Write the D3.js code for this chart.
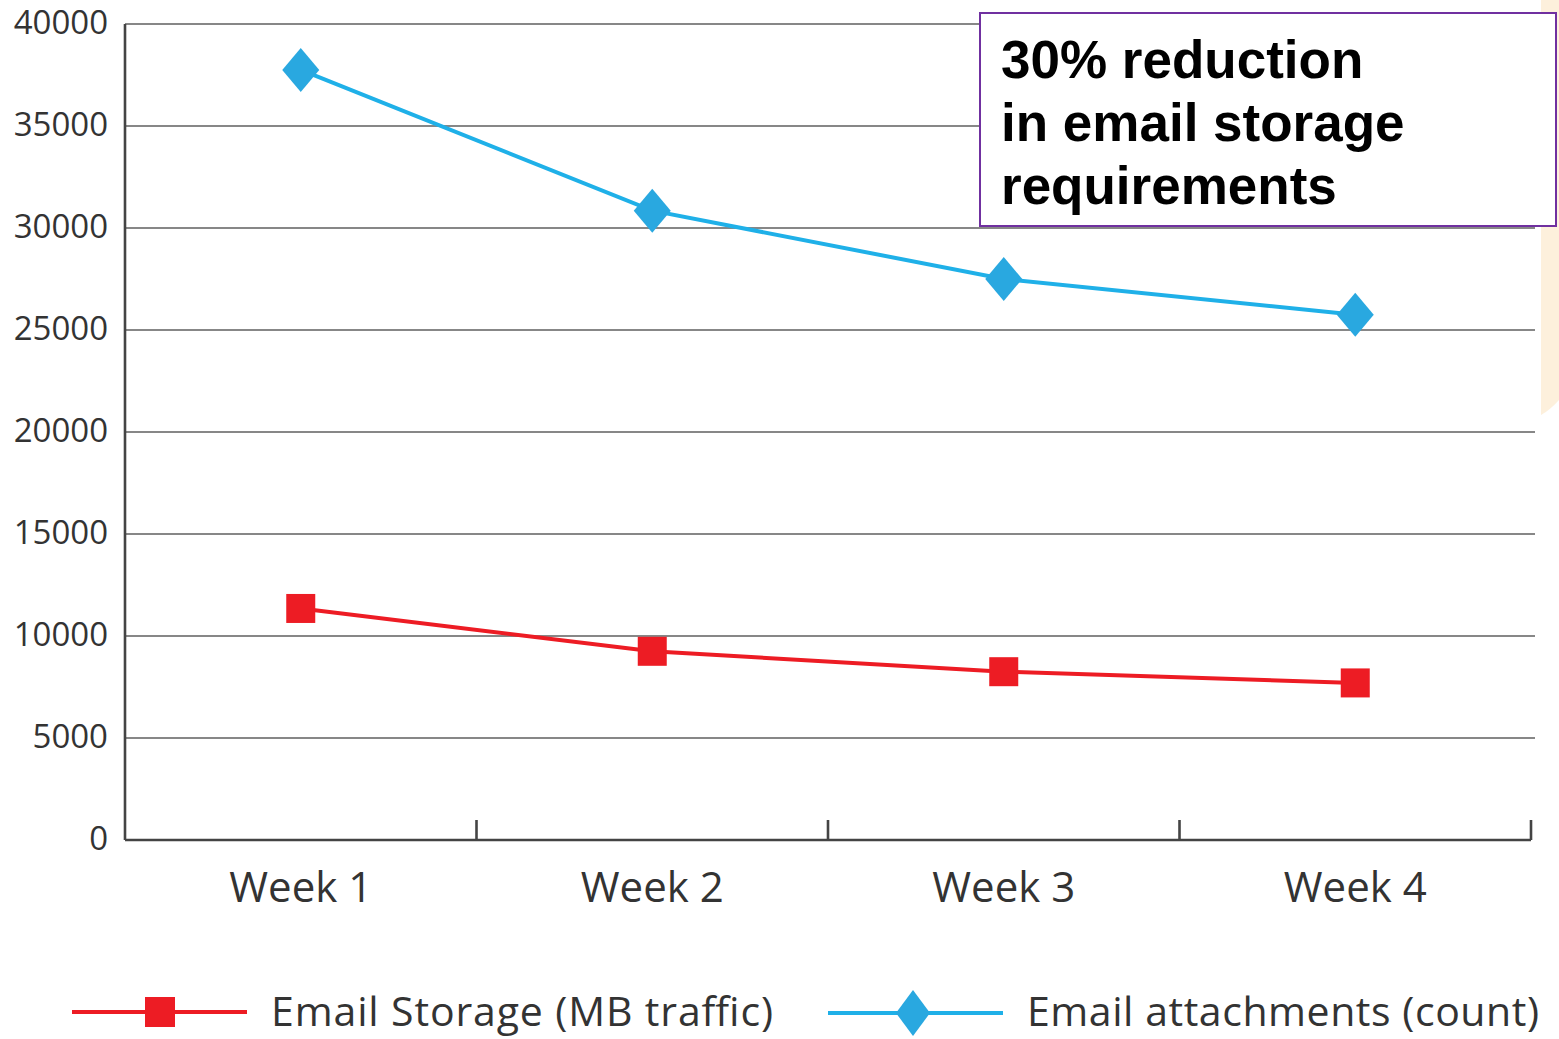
<!DOCTYPE html>
<html><head><meta charset="utf-8">
<script src="https://cdnjs.cloudflare.com/ajax/libs/d3/7.8.5/d3.min.js"></script>
<style>html,body{margin:0;padding:0;background:#fff;overflow:hidden}</style>
</head><body><svg id="c" width="1559" height="1039"></svg>
<script>
const categories = ["Week 1", "Week 2", "Week 3", "Week 4"];
const storageMB = [11350, 9250, 8250, 7700];
const attachments = [37750, 30850, 27500, 25750];
const yTicks = [0, 5000, 10000, 15000, 20000, 25000, 30000, 35000, 40000];
const seriesNames = ["Email Storage (MB traffic)", "Email attachments (count)"];
const noteLines = ["30% reduction", "in email storage", "requirements"];

const svg = d3.select("#c");
const L = 125, R = 1531, T = 24, B = 840;
const x = d3.scaleBand().domain(categories).range([L, R]).padding(0);
const y = d3.scaleLinear().domain([0, 40000]).range([B, T]);
const cx = d => x(d) + x.bandwidth() / 2;

// faint background decoration at right edge
svg.append("path").attr("d", "M1541,0 L1559,0 L1559,400 Q1550,410 1541,415 Z").attr("fill", "#fdf0dc");

// gridlines
svg.append("g").selectAll("line").data(yTicks.filter(v => v > 0)).join("line")
  .attr("x1", L).attr("x2", 1535).attr("y1", d => y(d)).attr("y2", d => y(d))
  .attr("stroke", "#878787").attr("stroke-width", 2.2);

// y axis
const yAxis = d3.axisLeft(y).tickValues(yTicks).tickSize(0).tickPadding(17).tickFormat(d3.format("d"));
const ya = svg.append("g").attr("transform", `translate(${L},0)`).call(yAxis);
ya.select(".domain").remove();
ya.selectAll("text").attr("font-family", "Open Sans").attr("font-size", 33).attr("fill", "#333").attr("dy", "0.3em");
svg.append("line").attr("x1", L).attr("x2", L).attr("y1", T).attr("y2", B).attr("stroke", "#444").attr("stroke-width", 2.6);

// x axis
const xAxis = d3.axisBottom(x).tickSize(0).tickPadding(32);
const xa = svg.append("g").attr("transform", `translate(0,${B})`).call(xAxis);
xa.select(".domain").remove();
xa.selectAll("text").attr("font-family", "Open Sans").attr("font-size", 42).attr("fill", "#333");
svg.append("line").attr("x1", L).attr("x2", R).attr("y1", B).attr("y2", B).attr("stroke", "#444").attr("stroke-width", 2.6);
svg.append("g").selectAll("line").data(categories.slice(1).map(c => x(c)).concat([R])).join("line")
  .attr("x1", d => d).attr("x2", d => d).attr("y1", B - 20).attr("y2", B)
  .attr("stroke", "#444").attr("stroke-width", 2.6);

const red = "#ed1c24", blue = "#1fb0e8", blueM = "#29a8e0";
const line = d3.line().x((d, i) => cx(categories[i])).y(d => y(d));

svg.append("path").datum(storageMB).attr("d", line).attr("fill", "none").attr("stroke", red).attr("stroke-width", 4);
svg.append("path").datum(attachments).attr("d", line).attr("fill", "none").attr("stroke", blue).attr("stroke-width", 4);

const sq = 29;
svg.append("g").selectAll("rect").data(storageMB).join("rect")
  .attr("x", (d, i) => cx(categories[i]) - sq / 2).attr("y", d => y(d) - sq / 2)
  .attr("width", sq).attr("height", sq).attr("fill", red);

const dw = 18.5, dh = 22;
const diamond = (px, py) => `M${px},${py - dh} L${px + dw},${py} L${px},${py + dh} L${px - dw},${py} Z`;
svg.append("g").selectAll("path").data(attachments).join("path")
  .attr("d", (d, i) => diamond(cx(categories[i]), y(d))).attr("fill", blueM);

// annotation box
svg.append("rect").attr("x", 980).attr("y", 13).attr("width", 576).attr("height", 213)
  .attr("fill", "#fff").attr("stroke", "#7030a0").attr("stroke-width", 2);
svg.append("g").selectAll("text").data(noteLines).join("text")
  .attr("x", 1001).attr("y", (d, i) => 78 + i * 63)
  .attr("font-family", "Liberation Sans, Arial, sans-serif").attr("font-weight", "bold")
  .attr("font-size", 53).attr("fill", "#000").text(d => d);

// legend
const lg = svg.append("g");
lg.append("line").attr("x1", 72).attr("x2", 247).attr("y1", 1012).attr("y2", 1012).attr("stroke", red).attr("stroke-width", 4);
lg.append("rect").attr("x", 160 - 15).attr("y", 1012 - 15).attr("width", 30).attr("height", 30).attr("fill", red);
lg.append("text").attr("x", 271).attr("y", 1026).attr("font-family", "Open Sans").attr("font-size", 41)
  .attr("textLength", 502).attr("lengthAdjust", "spacing").attr("fill", "#333").text(seriesNames[0]);
lg.append("line").attr("x1", 828).attr("x2", 1003).attr("y1", 1013).attr("y2", 1013).attr("stroke", blue).attr("stroke-width", 4);
lg.append("path").attr("d", `M913,990 L930,1013 L913,1036 L896,1013 Z`).attr("fill", blueM);
lg.append("text").attr("x", 1027).attr("y", 1026).attr("font-family", "Open Sans").attr("font-size", 41)
  .attr("textLength", 512).attr("lengthAdjust", "spacing").attr("fill", "#333").text(seriesNames[1]);
</script></body></html>
